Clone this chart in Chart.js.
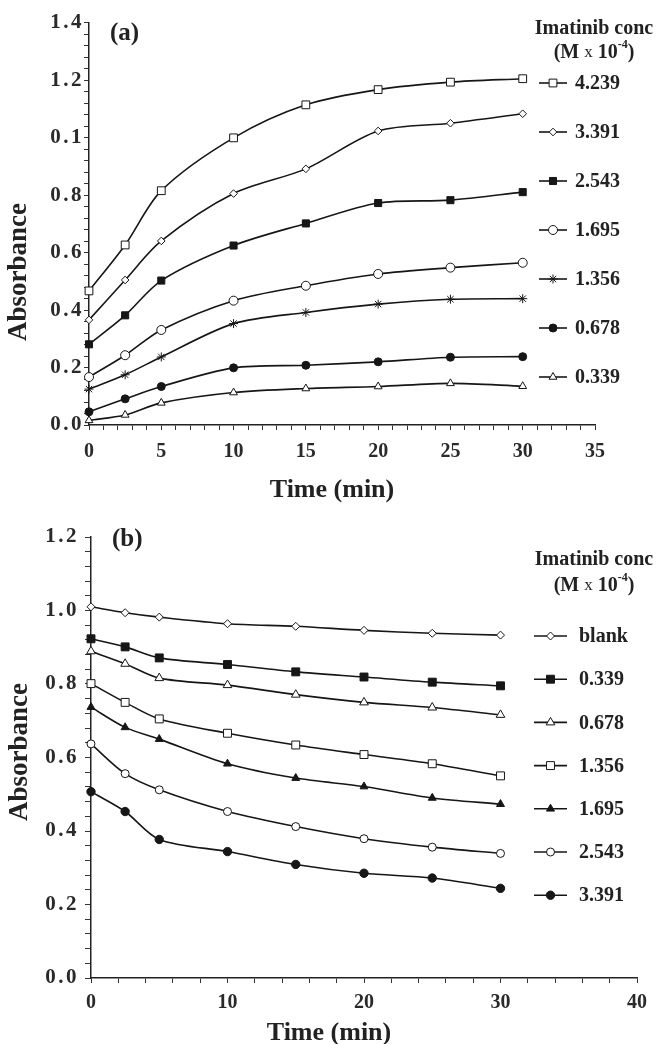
<!DOCTYPE html>
<html>
<head>
<meta charset="utf-8">
<script src="https://cdn.jsdelivr.net/npm/chart.js@4.4.1/dist/chart.umd.min.js"></script>
<style>
    html, body { margin: 0; padding: 0; background: #fff; }
    #contA { position: absolute; left: 0; top: 0; width: 660px; height: 510px; }
    #contB { position: absolute; left: 0; top: 510px; width: 660px; height: 534px; }
</style>
</head>
<body>
<div id="contA"><canvas id="graficoA" width="660" height="510"></canvas></div>
<div id="contB"><canvas id="graficoB" width="660" height="534"></canvas></div>
<script>
// Tiempos de medida (min), iguales en los dos paneles
const tiempos = [0, 2.5, 5, 10, 15, 20, 25, 30];

// Panel (a)
const seriesA = ['4.239', '3.391', '2.543', '1.695', '1.356', '0.678', '0.339'];
const absA4239 = [0.467, 0.627, 0.816, 1.000, 1.115, 1.168, 1.194, 1.206];
const absA3391 = [0.366, 0.505, 0.641, 0.806, 0.892, 1.024, 1.051, 1.084];
const absA2543 = [0.281, 0.382, 0.503, 0.625, 0.702, 0.773, 0.783, 0.811];
const absA1695 = [0.167, 0.243, 0.331, 0.433, 0.485, 0.526, 0.548, 0.565];
const absA1356 = [0.125, 0.175, 0.237, 0.353, 0.392, 0.421, 0.438, 0.440];
const absA0678 = [0.046, 0.091, 0.134, 0.199, 0.208, 0.220, 0.236, 0.238];
const absA0339 = [0.016, 0.035, 0.077, 0.113, 0.127, 0.134, 0.145, 0.135];
const yEtiquetasA = ['0.0', '0.2', '0.4', '0.6', '0.8', '0.1', '1.2', '1.4'];
const xEtiquetasA = ['0', '5', '10', '15', '20', '25', '30', '35'];

// Panel (b)
const seriesB = ['blank', '0.339', '0.678', '1.356', '1.695', '2.543', '3.391'];
const absBblank = [1.010, 0.994, 0.982, 0.964, 0.957, 0.946, 0.938, 0.933];
const absB0339 = [0.923, 0.901, 0.871, 0.853, 0.833, 0.819, 0.805, 0.795];
const absB0678 = [0.889, 0.855, 0.816, 0.797, 0.771, 0.750, 0.736, 0.716];
const absB1356 = [0.801, 0.750, 0.705, 0.666, 0.634, 0.608, 0.583, 0.550];
const absB1695 = [0.737, 0.682, 0.650, 0.583, 0.544, 0.521, 0.490, 0.473];
const absB2543 = [0.637, 0.556, 0.512, 0.453, 0.412, 0.379, 0.356, 0.339];
const absB3391 = [0.507, 0.453, 0.377, 0.344, 0.309, 0.285, 0.272, 0.244];
const yEtiquetasB = ['0.0', '0.2', '0.4', '0.6', '0.8', '1.0', '1.2'];
const xEtiquetasB = ['0', '10', '20', '30', '40'];

const SERIF = "'Liberation Serif', 'DejaVu Serif', serif";
const NEGRO = '#161616';

// marcadores: forma, radio, relleno
const marcadoresA = [
    { forma: 'rect', r: 5.5, lleno: false },
    { forma: 'rectRot', r: 3.8, lleno: false },
    { forma: 'rect', r: 5, lleno: true },
    { forma: 'circle', r: 4.5, lleno: false },
    { forma: 'star', r: 4.5, lleno: false },
    { forma: 'circle', r: 4, lleno: true },
    { forma: 'triangle', r: 4.5, lleno: false }
];
const marcadoresB = [
    { forma: 'rectRot', r: 4, lleno: false },
    { forma: 'rect', r: 5.6, lleno: true },
    { forma: 'triangle', r: 5, lleno: false },
    { forma: 'rect', r: 5.6, lleno: false },
    { forma: 'triangle', r: 4.6, lleno: true },
    { forma: 'circle', r: 4, lleno: false },
    { forma: 'circle', r: 4.2, lleno: true }
];

function serie(etiqueta, valores, m) {
    return {
        label: etiqueta,
        data: valores.map((v, i) => ({ x: tiempos[i], y: v })),
        borderColor: NEGRO,
        borderWidth: 1.6,
        tension: 0.3,
        clip: false,
        pointStyle: m.forma,
        pointRadius: m.r,
        pointBorderWidth: 1,
        pointBorderColor: NEGRO,
        pointBackgroundColor: m.lleno ? NEGRO : '#fff'
    };
}

// texto con superindice centrado en cx
function textoPartes(ctx, partes, cx, y) {
    let total = 0;
    partes.forEach(p => { ctx.font = p.f; total += ctx.measureText(p.t).width; });
    let x = cx - total / 2;
    ctx.textAlign = 'left';
    partes.forEach(p => {
        ctx.font = p.f;
        ctx.fillText(p.t, x, y + (p.dy || 0));
        x += ctx.measureText(p.t).width;
    });
}

// las etiquetas del eje y salen mas anchas en el original
// (las del eje x se dibujan despues, con ticks.z = 1)
const espaciado = {
    id: 'espaciado',
    beforeDraw(chart) { chart.ctx.letterSpacing = '2.5px'; },
    beforeDatasetsDraw(chart) { chart.ctx.letterSpacing = '0px'; }
};

// dibuja rotulo del panel, titulos de ejes y leyenda
const rotulos = {
    id: 'rotulos',
    afterDraw(chart, args, o) {
        const ctx = chart.ctx;
        ctx.save();
        ctx.letterSpacing = '0px';
        ctx.fillStyle = '#222';
        ctx.textBaseline = 'middle';

        ctx.font = 'bold 25px ' + SERIF;
        ctx.textAlign = 'left';
        ctx.fillText(o.panel, o.panelX, o.panelY);

        ctx.save();
        ctx.translate(o.yTituloX, o.yTituloY);
        ctx.rotate(-Math.PI / 2);
        ctx.textAlign = 'center';
        ctx.font = 'bold 27px ' + SERIF;
        ctx.fillText('Absorbance', 0, 0);
        ctx.restore();

        ctx.textAlign = 'center';
        ctx.textBaseline = 'alphabetic';
        ctx.font = 'bold 26px ' + SERIF;
        ctx.fillText('Time (min)', o.xTituloX, o.xTituloY);

        // titulo de la leyenda
        ctx.textBaseline = 'middle';
        ctx.font = 'bold 20px ' + SERIF;
        ctx.fillText('Imatinib conc', o.leyendaCx, o.leyendaT1);
        textoPartes(ctx, [
            { t: '(M ', f: 'bold 20px ' + SERIF },
            { t: 'x', f: '17px ' + SERIF },
            { t: ' 10', f: 'bold 20px ' + SERIF },
            { t: '-4', f: 'bold 12px ' + SERIF, dy: -8 },
            { t: ')', f: 'bold 20px ' + SERIF }
        ], o.leyendaCx, o.leyendaT2);

        // entradas
        chart.data.datasets.forEach((ds, i) => {
            const y = o.leyendaY0 + i * o.leyendaPaso;
            ctx.strokeStyle = NEGRO;
            ctx.lineWidth = 1.6;
            ctx.beginPath();
            ctx.moveTo(o.lineaX1, y);
            ctx.lineTo(o.lineaX2, y);
            ctx.stroke();
            ctx.fillStyle = ds.pointBackgroundColor;
            ctx.strokeStyle = ds.pointBorderColor;
            ctx.lineWidth = ds.pointBorderWidth;
            Chart.helpers.drawPoint(ctx, {
                pointStyle: ds.pointStyle, radius: ds.pointRadius, rotation: 0, borderWidth: ds.pointBorderWidth
            }, (o.lineaX1 + o.lineaX2) / 2, y);
            ctx.fillStyle = '#222';
            ctx.textAlign = 'left';
            ctx.font = 'bold 20px ' + SERIF;
            ctx.fillText(ds.label, o.textoX, y + 1);
        });
        ctx.restore();
    }
};

function ejes(cfg) {
    const comunGrid = { drawOnChartArea: false, drawTicks: true, color: '#333', lineWidth: 1 };
    const borde = { display: true, color: '#222', width: 1.5 };
    return {
        x: {
            type: 'linear', min: 0, max: cfg.xMax,
            border: borde,
            grid: Object.assign({ tickLength: cfg.xTick }, comunGrid),
            afterFit: s => { s.height = cfg.xAlto; },
            afterBuildTicks: s => {
                const t = [];
                for (let i = 0; i * cfg.xPaso <= cfg.xMax + 1e-9; i++) t.push({ value: i * cfg.xPaso });
                s.ticks = t;
            },
            ticks: {
                z: 1,
                autoSkip: false, maxRotation: 0, color: '#2a2a2a', padding: cfg.xPad,
                font: { family: SERIF, size: 20, weight: 'bold' },
                callback: (v, i) => (i % cfg.xCada === 0 ? cfg.xEtiquetas[i / cfg.xCada] : '')
            }
        },
        y: {
            type: 'linear', min: 0, max: cfg.yMax,
            border: borde,
            grid: Object.assign({ tickLength: cfg.yTick }, comunGrid),
            afterFit: s => { s.width = cfg.yAncho; },
            afterBuildTicks: s => {
                const t = [];
                for (let i = 0; i * 0.04 <= cfg.yMax + 1e-9; i++) t.push({ value: i * 0.04 });
                s.ticks = t;
            },
            ticks: {
                autoSkip: false, color: '#2a2a2a', padding: cfg.yPad,
                font: { family: SERIF, size: 21, weight: 'bold' },
                callback: (v, i) => (i % 5 === 0 ? cfg.yEtiquetas[i / 5] : '')
            }
        }
    };
}

const datosA = [absA4239, absA3391, absA2543, absA1695, absA1356, absA0678, absA0339];
const datosB = [absBblank, absB0339, absB0678, absB1356, absB1695, absB2543, absB3391];

new Chart(document.getElementById('graficoA'), {
    type: 'line',
    data: { datasets: seriesA.map((s, i) => serie(s, datosA[i], marcadoresA[i])) },
    plugins: [espaciado, rotulos],
    options: {
        responsive: false,
        animation: false,
        layout: { padding: { left: 0, top: 23, right: 65, bottom: 0 } },
        scales: ejes({
            xMax: 35, xPaso: 1, xCada: 5, xEtiquetas: xEtiquetasA, xAlto: 85, xTick: 5, xPad: 10,
            yMax: 1.4, yEtiquetas: yEtiquetasA, yAncho: 89, yTick: 5, yPad: 0
        }),
        plugins: {
            legend: { display: false },
            tooltip: { enabled: false },
            rotulos: {
                panel: '(a)', panelX: 110, panelY: 34,
                yTituloX: 19, yTituloY: 272,
                xTituloX: 332, xTituloY: 497,
                leyendaCx: 594, leyendaT1: 29, leyendaT2: 53,
                leyendaY0: 83, leyendaPaso: 49,
                lineaX1: 539, lineaX2: 567, textoX: 575
            }
        }
    }
});

new Chart(document.getElementById('graficoB'), {
    type: 'line',
    data: { datasets: seriesB.map((s, i) => serie(s, datosB[i], marcadoresB[i])) },
    plugins: [espaciado, rotulos],
    options: {
        responsive: false,
        animation: false,
        layout: { padding: { left: 0, top: 27, right: 23, bottom: 0 } },
        scales: ejes({
            xMax: 40, xPaso: 2, xCada: 5, xEtiquetas: xEtiquetasB, xAlto: 66, xTick: 5, xPad: 8,
            yMax: 1.2, yEtiquetas: yEtiquetasB, yAncho: 91, yTick: 6, yPad: 6
        }),
        plugins: {
            legend: { display: false },
            tooltip: { enabled: false },
            rotulos: {
                panel: '(b)', panelX: 112, panelY: 30,
                yTituloX: 20, yTituloY: 242,
                xTituloX: 329, xTituloY: 530,
                leyendaCx: 594, leyendaT1: 50, leyendaT2: 76,
                leyendaY0: 126, leyendaPaso: 43.2,
                lineaX1: 534, lineaX2: 567, textoX: 579
            }
        }
    }
});
</script>
</body>
</html>
